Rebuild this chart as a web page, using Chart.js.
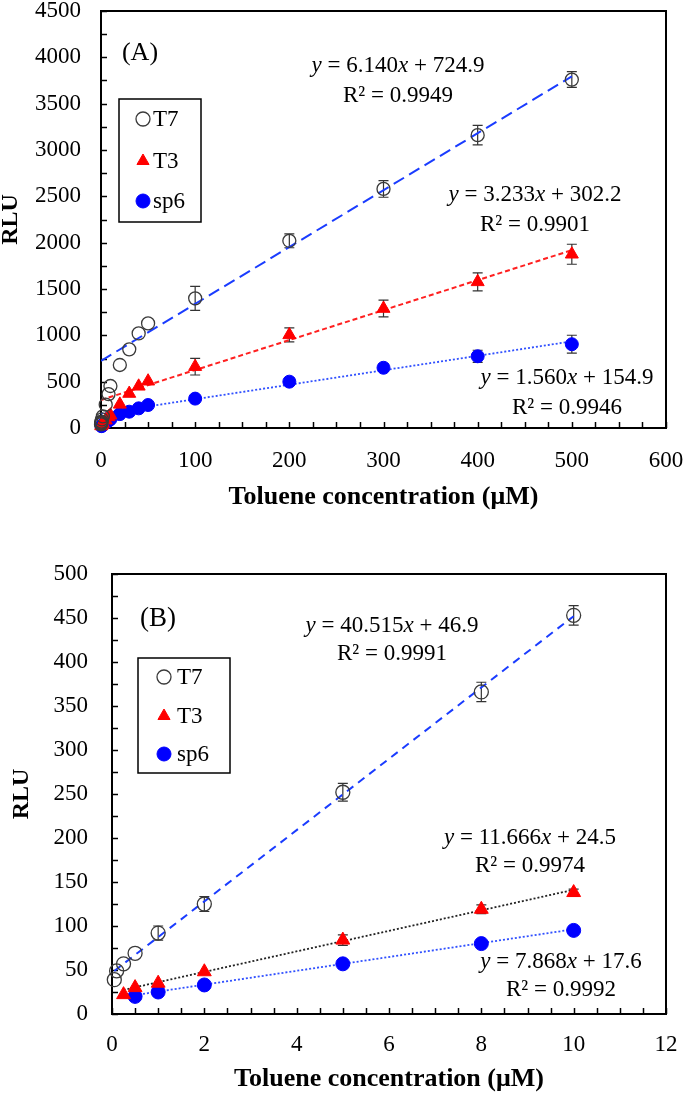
<!DOCTYPE html>
<html>
<head>
<meta charset="utf-8">
<script src="https://cdn.jsdelivr.net/npm/chart.js@4"></script>
<style>
body { margin: 0; background: #fff; width: 685px; height: 1094px; overflow: hidden; }
.wrap { position: absolute; left: 0; width: 685px; }
</style>
</head>
<body>
<div class="wrap" style="top:0;height:520px"><canvas id="chartA"></canvas></div>
<div class="wrap" style="top:520px;height:574px"><canvas id="chartB"></canvas></div>
<script>
const FONT = "'Liberation Serif', 'Times New Roman', serif";
Chart.defaults.font.family = FONT;
Chart.defaults.color = "#000";

const seriesNames = ["T7", "T3", "sp6"];

// panel A : full range
const concA = [0.05, 0.1, 0.25, 0.5, 1, 2, 5, 8, 10, 20, 30, 40, 50, 100, 200, 300, 400, 500];
const t7A = [39, 49, 57, 69, 92, 125, 252, 366, 453, 680, 849, 1021, 1129, 1399, 2020, 2580, 3160, 3760];
const t3A = [null, null, 22, 30, 35, 48, 84, 119, 138, 255, 372, 450, 505, 662, 1005, 1289, 1577, 1875];
const sp6A = [null, null, null, 20, 25, 33, 57, 80, 95, 150, 176, 212, 248, 317, 500, 650, 774, 904];
const t7AErr = [0, 0, 0, 0, 0, 0, 0, 0, 0, 0, 0, 0, 0, 130, 75, 90, 105, 85];
const t3AErr = [0, 0, 0, 0, 0, 0, 0, 0, 0, 0, 0, 0, 0, 90, 75, 90, 97, 108];
const sp6AErr = [0, 0, 0, 0, 0, 0, 0, 0, 0, 0, 0, 0, 0, 30, 40, 40, 65, 97];
const slopeA = [6.140, 3.233, 1.560];
const interceptA = [724.9, 302.2, 154.9];
const r2A = [0.9949, 0.9901, 0.9946];
const fitFromA = [0, 0, 0];
const fitToA = [500, 500, 500];
const xTicksA = [0, 600, 100];   // min, max, step
const yTicksA = [0, 4500, 500];

// panel B : low range
const concB = [0.05, 0.1, 0.25, 0.5, 1, 2, 5, 8, 10];
const t7B = [39, 49, 57, 69, 92, 125, 252, 366, 453];
const t3B = [null, null, 22, 30, 35, 48, 84, 119, 138];
const sp6B = [null, null, null, 20, 25, 33, 57, 80, 95];
const t7BErr = [0, 0, 0, 0, 8, 8.5, 10, 11, 11];
const t3BErr = [0, 0, 0, 0, 0, 0, 6, 5, 4];
const sp6BErr = [0, 0, 0, 0, 0, 0, 0, 0, 0];
const slopeB = [40.515, 11.666, 7.868];
const interceptB = [46.9, 24.5, 17.6];
const r2B = [0.9991, 0.9974, 0.9992];
const fitFromB = [0.05, 0.25, 0.5];
const fitToB = [10, 10, 10];
const xTicksB = [0, 12, 2];
const yTicksB = [0, 500, 50];

const markers = [
	{ pointStyle: "circle", backgroundColor: "rgba(0,0,0,0)", borderColor: "#3a3a3a", borderWidth: 1.3 },
	{ pointStyle: "triangle", backgroundColor: "#ff0000", borderColor: "#ff0000", borderWidth: 1 },
	{ pointStyle: "circle", backgroundColor: "#0000ff", borderColor: "#0000ff", borderWidth: 1 },
];

function buildDatasets(conc, series, errors, slopes, intercepts, from, to, fitStyles, radii) {
	const sets = [];
	series.forEach((vals, s) => {
		const pts = [];
		vals.forEach((v, i) => {
			if (v !== null) pts.push({ x: conc[i], y: v, e: errors[s][i] });
		});
		sets.push({
			label: seriesNames[s],
			data: pts,
			order: 1,
			clip: false,
			pointStyle: markers[s].pointStyle,
			pointRadius: radii[s],
			pointBackgroundColor: markers[s].backgroundColor,
			pointBorderColor: markers[s].borderColor,
			pointBorderWidth: markers[s].borderWidth,
			backgroundColor: markers[s].backgroundColor,
			borderColor: markers[s].borderColor,
			showLine: false,
		});
	});
	slopes.forEach((m, s) => {
		sets.push({
			label: "fit " + seriesNames[s],
			isFit: true,
			data: [
				{ x: from[s], y: m * from[s] + intercepts[s] },
				{ x: to[s], y: m * to[s] + intercepts[s] },
			],
			order: 2,
			showLine: true,
			pointRadius: 0,
			borderColor: fitStyles[s].color,
			borderWidth: fitStyles[s].width,
			borderDash: fitStyles[s].dash,
		});
	});
	return sets;
}

// frame around the plot + inward minor ticks
const framePlugin = {
	id: "frame",
	beforeDatasetsDraw(chart, args, opts) {
		const { ctx, chartArea: a, scales } = chart;
		ctx.save();
		ctx.strokeStyle = "#000";
		ctx.lineWidth = 1.5;
		for (let v = scales.x.min; v <= scales.x.max + 1e-9; v += opts.xMinor) {
			const px = Math.round(scales.x.getPixelForValue(v)) + 0.5;
			ctx.beginPath();
			ctx.moveTo(px, a.bottom);
			ctx.lineTo(px, a.bottom - 6);
			ctx.stroke();
		}
		for (let v = scales.y.min; v <= scales.y.max + 1e-9; v += opts.yMinor) {
			const py = Math.round(scales.y.getPixelForValue(v)) + 0.5;
			ctx.beginPath();
			ctx.moveTo(a.left, py);
			ctx.lineTo(a.left + 6, py);
			ctx.stroke();
		}
		ctx.lineWidth = 2;
		ctx.strokeRect(a.left, a.top, a.right - a.left, a.bottom - a.top);
		ctx.restore();
	},
};

const errorBarPlugin = {
	id: "errorBars",
	beforeDatasetsDraw(chart) {
		const { ctx, scales } = chart;
		ctx.save();
		ctx.strokeStyle = "#333";
		ctx.lineWidth = 1.2;
		chart.data.datasets.forEach((ds) => {
			if (ds.isFit) return;
			ds.data.forEach((p) => {
				if (!p.e) return;
				const x = scales.x.getPixelForValue(p.x);
				const y1 = scales.y.getPixelForValue(p.y + p.e);
				const y2 = scales.y.getPixelForValue(p.y - p.e);
				ctx.beginPath();
				ctx.moveTo(x, y1);
				ctx.lineTo(x, y2);
				ctx.moveTo(x - 5, y1);
				ctx.lineTo(x + 5, y1);
				ctx.moveTo(x - 5, y2);
				ctx.lineTo(x + 5, y2);
				ctx.stroke();
			});
		});
		ctx.restore();
	},
};

function drawParts(ctx, parts, cx, cy, size) {
	let total = 0;
	parts.forEach((p) => {
		ctx.font = (p[1] ? "italic " : "") + size + "px " + FONT;
		total += ctx.measureText(p[0]).width;
	});
	let x = cx - total / 2;
	ctx.textAlign = "left";
	ctx.textBaseline = "middle";
	parts.forEach((p) => {
		ctx.font = (p[1] ? "italic " : "") + size + "px " + FONT;
		ctx.fillText(p[0], x, cy);
		x += ctx.measureText(p[0]).width;
	});
}

const notesPlugin = {
	id: "notes",
	afterDatasetsDraw(chart, args, opts) {
		const { ctx } = chart;
		ctx.save();
		ctx.fillStyle = "#000";
		// panel label
		ctx.font = opts.panelSize + "px " + FONT;
		ctx.textAlign = "center";
		ctx.textBaseline = "middle";
		ctx.fillText(opts.panel, opts.panelPos[0], opts.panelPos[1]);
		// fit equations
		opts.slopes.forEach((m, s) => {
			const pos = opts.eqPos[s];
			drawParts(ctx, [["y", true], [" = " + m.toFixed(3), false], ["x", true], [" + " + opts.intercepts[s].toFixed(1), false]], pos[0], pos[1], opts.eqSize);
			drawParts(ctx, [["R² = " + opts.r2[s].toFixed(4), false]], pos[0], pos[1] + opts.eqGap, opts.eqSize);
		});
		// legend
		const lg = opts.legend;
		ctx.lineWidth = 1.5;
		ctx.strokeStyle = "#000";
		ctx.strokeRect(lg.box[0], lg.box[1], lg.box[2], lg.box[3]);
		chart.data.datasets.filter((d) => !d.isFit).forEach((d, i) => {
			const y = lg.rows[i];
			ctx.fillStyle = d.pointBackgroundColor;
			ctx.strokeStyle = d.pointBorderColor;
			ctx.lineWidth = d.pointBorderWidth;
			Chart.helpers.drawPoint(ctx, { pointStyle: d.pointStyle, radius: lg.radius, rotation: 0, borderWidth: d.pointBorderWidth }, lg.markerX, y);
			ctx.fillStyle = "#000";
			ctx.font = lg.size + "px " + FONT;
			ctx.textAlign = "left";
			ctx.textBaseline = "middle";
			ctx.fillText(d.label, lg.textX, y + 1);
		});
		ctx.restore();
	},
};

function makeChart(id, datasets, o) {
	return new Chart(document.getElementById(id), {
		type: "scatter",
		data: { datasets },
		plugins: [framePlugin, errorBarPlugin, notesPlugin],
		options: {
			responsive: true,
			maintainAspectRatio: false,
			animation: false,
			events: [],
			layout: { padding: { top: o.padTop, right: 19, left: 0, bottom: 0 } },
			plugins: {
				legend: { display: false },
				tooltip: { enabled: false },
				frame: { xMinor: o.xMinor, yMinor: o.yMinor },
				notes: o.notes,
			},
			scales: {
				x: {
					type: "linear",
					min: o.xTicks[0],
					max: o.xTicks[1],
					afterFit: (s) => { s.height = o.xHeight; s.paddingLeft = 0; s.paddingRight = 0; },
					grid: { display: false, drawTicks: false },
					border: { display: false },
					ticks: { stepSize: o.xTicks[2], padding: o.xPad, font: { size: 23 }, color: "#000", callback: (v) => String(v) },
					title: { display: true, text: "Toluene concentration (μM)", font: { size: 26, weight: "bold", lineHeight: 1 }, padding: { top: 0, bottom: o.xTitlePad }, color: "#000" },
				},
				y: {
					type: "linear",
					min: o.yTicks[0],
					max: o.yTicks[1],
					afterFit: (s) => { s.width = o.yWidth; s.paddingTop = 0; s.paddingBottom = 0; },
					grid: { display: false, drawTicks: false },
					border: { display: false },
					ticks: { stepSize: o.yTicks[2], padding: o.yPad, font: { size: 23, lineHeight: 0.9 }, color: "#000", callback: (v) => String(v) },
					title: { display: true, text: "RLU", font: { size: 24, weight: "bold", lineHeight: 1 }, padding: { top: o.yTitlePad, bottom: 0 }, color: "#000" },
				},
			},
		},
	});
}

makeChart("chartA",
	buildDatasets(concA, [t7A, t3A, sp6A], [t7AErr, t3AErr, sp6AErr], slopeA, interceptA, fitFromA, fitToA,
		[{ color: "#1a3cff", width: 2, dash: [12, 6] }, { color: "#ff2020", width: 2, dash: [5, 3] }, { color: "#3050ff", width: 1.8, dash: [2, 2] }],
		[6.5, 7.5, 6.5]),
	{
		padTop: 11, xHeight: 92, yWidth: 101, xPad: 19, yPad: 20, xTitlePad: 10, yTitlePad: -1,
		xTicks: xTicksA, yTicks: yTicksA, xMinor: 25, yMinor: 250,
		notes: {
			panel: "(A)", panelPos: [140, 53], panelSize: 26,
			slopes: slopeA, intercepts: interceptA, r2: r2A,
			eqPos: [[398, 66], [535, 195], [567, 378]], eqGap: 30, eqSize: 23,
			legend: { box: [119, 99, 82, 123], rows: [119, 161, 201], markerX: 143, textX: 153, radius: 7, size: 23 },
		},
	});

makeChart("chartB",
	buildDatasets(concB, [t7B, t3B, sp6B], [t7BErr, t3BErr, sp6BErr], slopeB, interceptB, fitFromB, fitToB,
		[{ color: "#1a3cff", width: 2, dash: [8, 6] }, { color: "#222", width: 1.8, dash: [2, 2] }, { color: "#3050ff", width: 1.8, dash: [2, 2] }],
		[7, 8, 7]),
	{
		padTop: 54, xHeight: 80, yWidth: 112, xPad: 17, yPad: 24, xTitlePad: 2, yTitlePad: 10,
		xTicks: xTicksB, yTicks: yTicksB, xMinor: 0.5, yMinor: 25,
		notes: {
			panel: "(B)", panelPos: [158, 99], panelSize: 27,
			slopes: slopeB, intercepts: interceptB, r2: r2B,
			eqPos: [[392, 106], [530, 318], [561, 442]], eqGap: 28, eqSize: 23,
			legend: { box: [138, 138, 92, 115], rows: [157, 196, 234], markerX: 164, textX: 177, radius: 7, size: 23 },
		},
	});
</script>
</body>
</html>
